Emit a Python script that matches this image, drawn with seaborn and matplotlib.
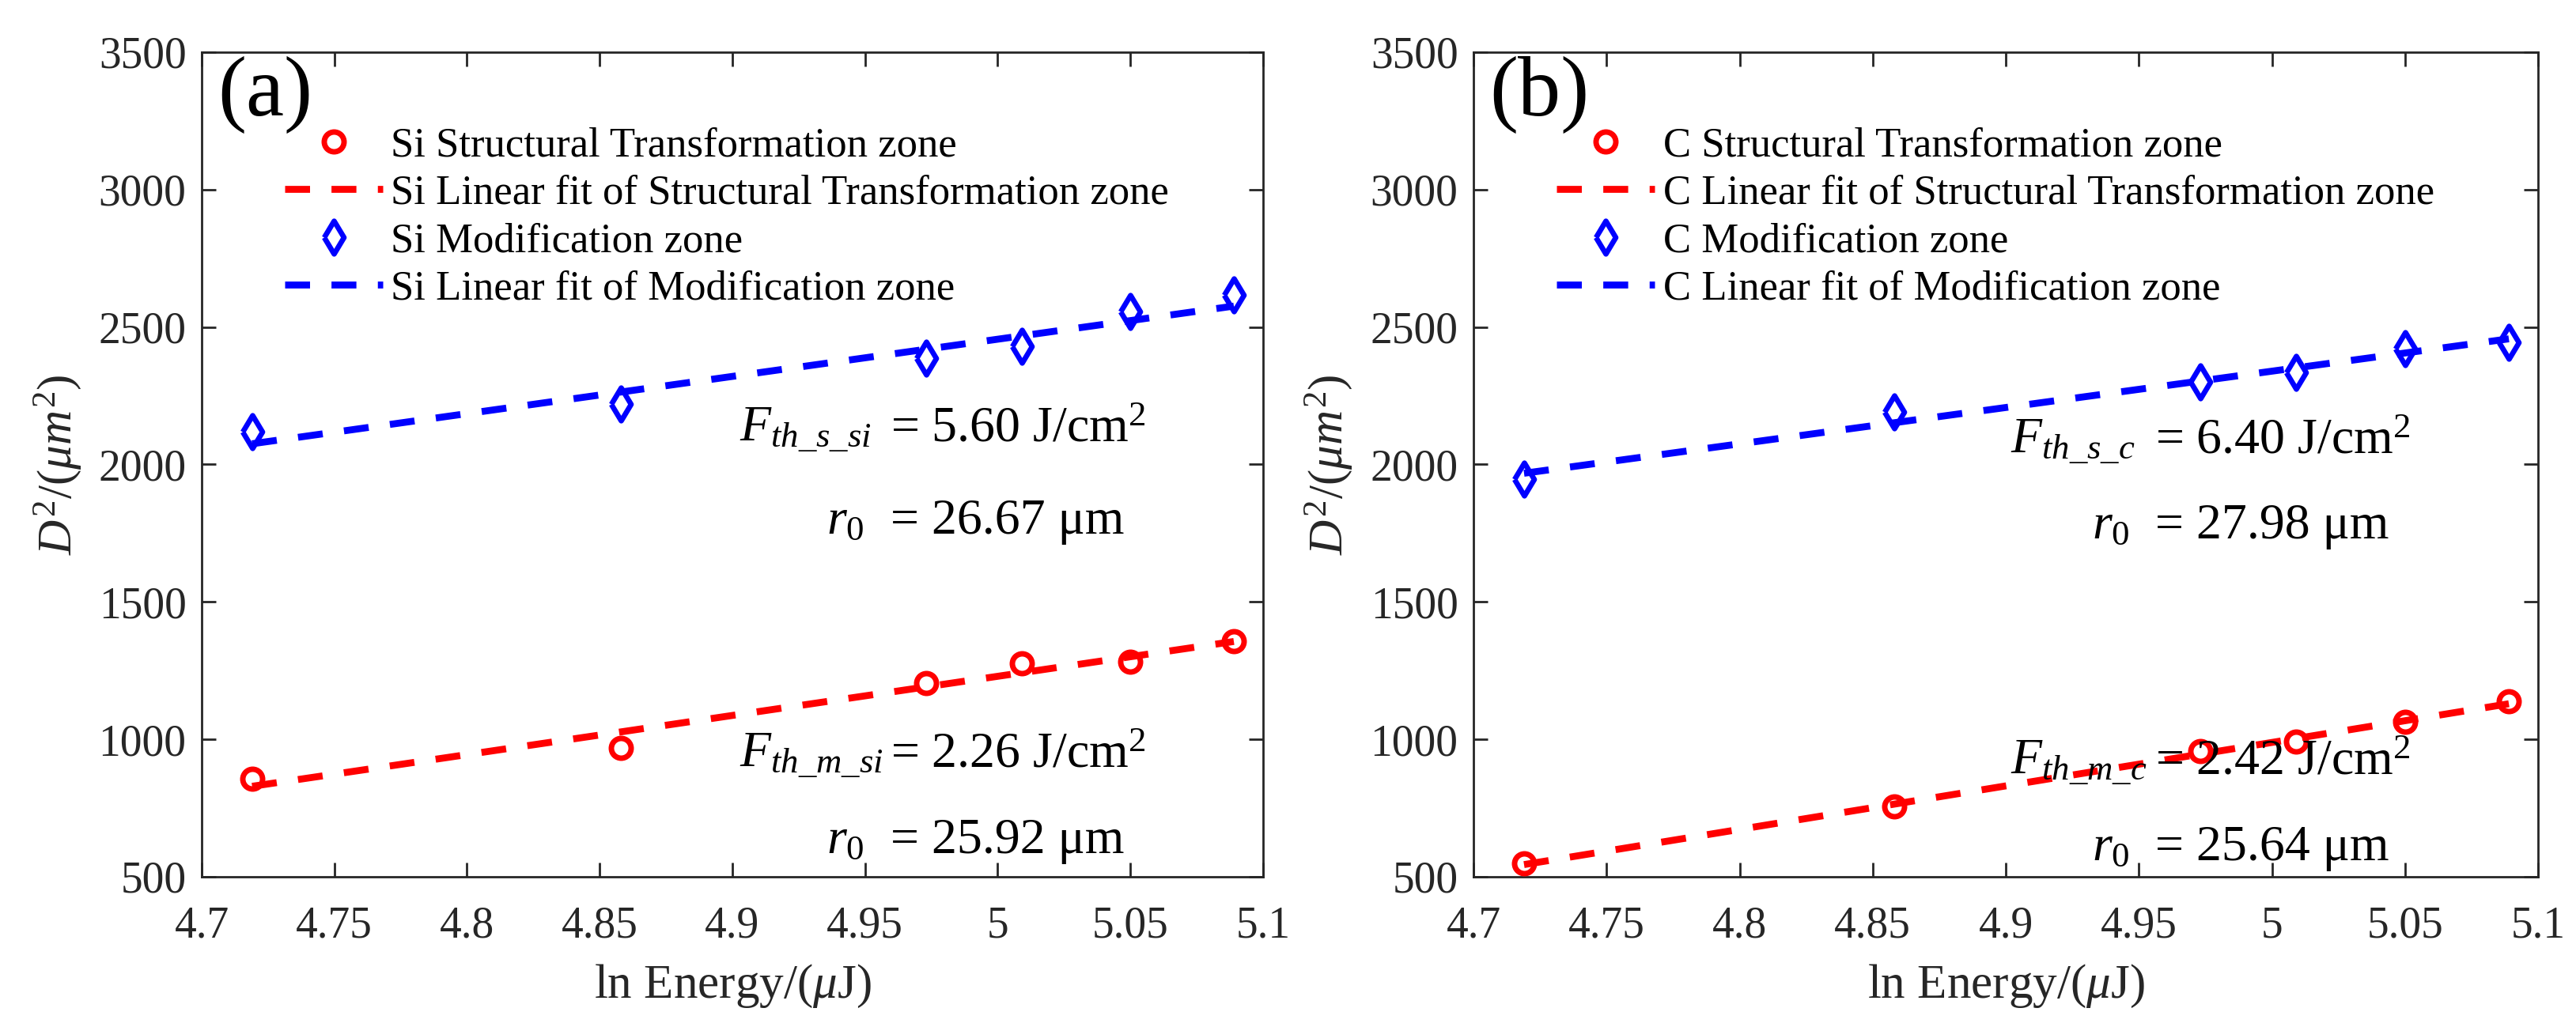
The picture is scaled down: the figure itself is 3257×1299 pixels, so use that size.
import numpy as np
import pandas as pd
import matplotlib
matplotlib.use("Agg")
import matplotlib.pyplot as plt
from matplotlib.markers import MarkerStyle
import seaborn as sns

# ---------------- data ----------------
ln_energy = [4.719, 4.858, 4.973, 5.009, 5.050, 5.089]

si_structural = [856, 968, 1205, 1276, 1282, 1358]
si_modification = [2118, 2219, 2386, 2429, 2556, 2616]

c_structural = [548, 757, 957, 992, 1063, 1137]
c_modification = [1947, 2190, 2299, 2335, 2421, 2444]

x_ticks = [4.7, 4.75, 4.8, 4.85, 4.9, 4.95, 5.0, 5.05, 5.1]
x_tick_labels = ["4.7", "4.75", "4.8", "4.85", "4.9", "4.95", "5", "5.05", "5.1"]
y_ticks = [500, 1000, 1500, 2000, 2500, 3000, 3500]
y_tick_labels = ["500", "1000", "1500", "2000", "2500", "3000", "3500"]

si_labels = ["Si Structural Transformation zone",
             "Si Linear fit of Structural Transformation zone",
             "Si Modification zone",
             "Si Linear fit of Modification zone"]
c_labels = ["C Structural Transformation zone",
            "C Linear fit of Structural Transformation zone",
            "C Modification zone",
            "C Linear fit of Modification zone"]

si_texts = [r"$F_{th\_s\_si}$", "= 5.60 J/cm$^2$", r"$r_0$", "= 26.67 μm",
            r"$F_{th\_m\_si}$", "= 2.26 J/cm$^2$", r"$r_0$", "= 25.92 μm"]
c_texts = [r"$F_{th\_s\_c}$", "= 6.40 J/cm$^2$", r"$r_0$", "= 27.98 μm",
           r"$F_{th\_m\_c}$", "= 2.42 J/cm$^2$", r"$r_0$", "= 25.64 μm"]

# ---------------- style ----------------
sns.set_theme(style="ticks")
plt.rcParams["font.family"] = ["Liberation Serif", "DejaVu Serif"]
plt.rcParams["mathtext.fontset"] = "custom"
plt.rcParams["mathtext.rm"] = "Liberation Serif"
plt.rcParams["mathtext.it"] = "Liberation Serif:italic"
plt.rcParams["mathtext.bf"] = "Liberation Serif:bold"

AX_COLOR = "#262626"
RED = "#FF0000"
BLUE = "#0000FF"

fig = plt.figure(figsize=(32.57, 12.99), dpi=100)
ax_a = fig.add_axes([0.0783, 0.1463, 0.4120, 0.8030])
ax_b = fig.add_axes([0.5720, 0.1463, 0.4133, 0.8030])

LW = 6.3
DASH = (3.6, 3.1)
DIAMOND = MarkerStyle([(-0.3, 0), (0, 0.5), (0.3, 0), (0, -0.5), (-0.3, 0)],
                      joinstyle="miter")
CIRCLE = MarkerStyle("o")


def draw_panel(ax, y_struct, y_mod, labels, texts, tag, tpos):
    x = np.array(ln_energy)
    xf = np.array([x[0], x[-1]])
    fit_s = np.polyval(np.polyfit(x, y_struct, 1), xf)
    fit_m = np.polyval(np.polyfit(x, y_mod, 1), xf)

    df_s = pd.DataFrame({"x": x, "y": y_struct})
    df_m = pd.DataFrame({"x": x, "y": y_mod})
    df_fs = pd.DataFrame({"x": xf, "y": fit_s})
    df_fm = pd.DataFrame({"x": xf, "y": fit_m})

    sns.lineplot(data=df_fs, x="x", y="y", ax=ax, color=RED, lw=LW,
                 label="_fs", zorder=2)
    sns.lineplot(data=df_fm, x="x", y="y", ax=ax, color=BLUE, lw=LW,
                 label="_fm", zorder=2)
    sns.lineplot(data=df_s, x="x", y="y", ax=ax, color=RED, linestyle="none",
                 marker=CIRCLE, ms=18, mfc="none", mec=RED, mew=5.0,
                 label="_s", zorder=3)
    sns.lineplot(data=df_m, x="x", y="y", ax=ax, color=BLUE, linestyle="none",
                 marker=DIAMOND, ms=30, mfc="none", mec=BLUE, mew=4.8,
                 label="_m", zorder=3)

    lines = ax.get_lines()
    h_fs, h_fm, h_s, h_m = lines[0], lines[1], lines[2], lines[3]
    for h in (h_fs, h_fm):
        h.set_dashes(DASH)
    leg = ax.legend([h_s, h_fs, h_m, h_fm], labels, loc="upper left",
                    bbox_to_anchor=(0.078, 0.909), frameon=False,
                    fontsize=38, handlelength=2.35, handletextpad=0.2,
                    labelspacing=0.23, borderpad=0, borderaxespad=0,
                    numpoints=1)
    for t in leg.get_texts():
        t.set_color("black")

    ax.set_xlim(4.7, 5.1)
    ax.set_ylim(500, 3500)
    ax.set_xticks(x_ticks)
    ax.set_xticklabels(x_tick_labels)
    ax.set_yticks(y_ticks)
    ax.set_yticklabels(y_tick_labels)
    ax.tick_params(axis="both", direction="in", length=13, width=2,
                   colors=AX_COLOR, labelsize=40, top=True, right=True,
                   labelcolor=AX_COLOR)
    ax.tick_params(axis="y", pad=14)
    ax.tick_params(axis="x", pad=26)
    for sp in ax.spines.values():
        sp.set_visible(True)
        sp.set_color(AX_COLOR)
        sp.set_linewidth(2)

    ax.set_xlabel(r"ln Energy/($\mu$J)", fontsize=44, color=AX_COLOR)
    ax.set_ylabel(r"$D^2/(\mu m^2)$", fontsize=44, color=AX_COLOR)
    ax.xaxis.set_label_coords(0.5, -0.104)
    ax.xaxis.label.set_va("top")
    ax.yaxis.set_label_coords(-0.112, 0.5)

    ax.text(0.015, 0.995, tag, transform=ax.transAxes, fontsize=78,
            ha="left", va="top", color="black")

    xF, xr, xeq, yb = tpos
    for i in range(2):
        ax.text(xF, yb[2 * i], texts[4 * i], fontsize=46, ha="left",
                va="baseline", color="black")
        ax.text(xeq, yb[2 * i], texts[4 * i + 1], fontsize=46, ha="left",
                va="baseline", color="black")
        ax.text(xr, yb[2 * i + 1], texts[4 * i + 2], fontsize=46, ha="left",
                va="baseline", color="black")
        ax.text(xeq, yb[2 * i + 1], texts[4 * i + 3], fontsize=46, ha="left",
                va="baseline", color="black")


draw_panel(ax_a, si_structural, si_modification, si_labels, si_texts, "(a)",
           (4.9027, 4.9355, 4.9596, [2083, 1748, 898, 586]))
draw_panel(ax_b, c_structural, c_modification, c_labels, c_texts, "(b)",
           (4.9018, 4.9324, 4.956, [2040, 1730, 872, 560]))

fig.savefig("out.png", dpi=100, facecolor="white")
